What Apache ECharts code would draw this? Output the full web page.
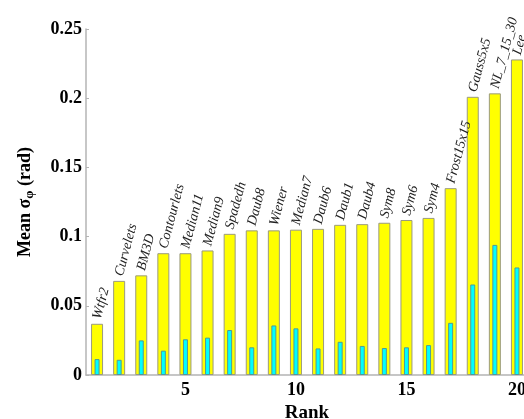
<!DOCTYPE html>
<html>
<head>
<meta charset="utf-8">
<script src="https://cdn.jsdelivr.net/npm/echarts@6/dist/echarts.min.js"></script>
<style>
  html, body { margin: 0; padding: 0; background: #fff; }
  #main { width: 524px; height: 419px; }
</style>
</head>
<body>
<div id="main"></div>
<script>
// rank 1..20, method names written above each bar
var ranks = ["1","2","3","4","5","6","7","8","9","10","11","12","13","14","15","16","17","18","19","20"];
var methods = ["Wtfr2","Curvelets","BM3D","Contourlets","Median11","Median9","Spadedh","Daub8","Wiener","Median7",
               "Daub6","Daub1","Daub4","Sym8","Sym6","Sym4","Frost15x15","Gauss5x5","NL_7_15_30","Lee"];
// mean sigma phi (yellow) and the narrow cyan bars
var meanVals = [0.037, 0.068, 0.072, 0.088, 0.088, 0.090, 0.102, 0.1045, 0.1045, 0.105,
                0.1056, 0.1085, 0.109, 0.110, 0.112, 0.1135, 0.135, 0.201, 0.2035, 0.228];
var innerVals = [0.0115, 0.011, 0.025, 0.0176, 0.0258, 0.027, 0.0325, 0.020, 0.0358, 0.0337,
                 0.0192, 0.024, 0.021, 0.0195, 0.020, 0.0216, 0.0377, 0.0654, 0.094, 0.0777];
var yTicks = [0, 0.05, 0.1, 0.15, 0.2, 0.25];

var serif = "Liberation Serif";
var myChart = echarts.init(document.getElementById("main"));

var option = {
  animation: false,
  // plot runs past the right edge in the original, so no outer bounds clamp
  grid: { left: 86, right: -4, top: 29, bottom: 44, containLabel: false, outerBoundsMode: "none" },
  xAxis: [
    {
      type: "category",
      data: ranks,
      name: "Rank",
      nameLocation: "middle",
      nameGap: 22,
      nameTextStyle: { fontFamily: serif, fontWeight: "bold", fontSize: 19, color: "#000" },
      axisLine: { lineStyle: { color: "#b4b4b4", width: 1.5 } },
      axisTick: { show: false },
      axisLabel: {
        interval: 0,
        margin: 6,
        fontFamily: serif, fontWeight: "bold", fontSize: 18, color: "#000",
        formatter: function (v) { return (+v) % 5 === 0 ? v : ""; }
      }
    },
    {
      type: "category",
      data: ranks,
      show: false
    }
  ],
  yAxis: {
    type: "value",
    min: yTicks[0],
    max: yTicks[yTicks.length - 1],
    interval: 0.05,
    name: "{a|Mean σ}{s|φ}{a| (rad)}",
    nameLocation: "middle",
    nameGap: 50,
    nameTextStyle: {
      rich: {
        a: { fontFamily: serif, fontWeight: "bold", fontSize: 18, color: "#000", verticalAlign: "top", lineHeight: 20 },
        s: { fontFamily: serif, fontWeight: "bold", fontSize: 13, color: "#000", verticalAlign: "bottom", lineHeight: 14, padding: [10, 0, 0, 0] }
      }
    },
    splitLine: { show: false },
    axisLine: { show: true, lineStyle: { color: "#b4b4b4", width: 1.5 } },
    axisTick: { show: true, inside: true, length: 3, lineStyle: { color: "#b4b4b4" } },
    axisLabel: {
      margin: 4,
      fontFamily: serif, fontWeight: "bold", fontSize: 18, color: "#000",
      formatter: function (v) { return String(+v.toFixed(2)); }
    }
  },
  series: [
    {
      type: "bar",
      xAxisIndex: 0,
      data: meanVals,
      barWidth: 12,
      itemStyle: { color: "#ffff00", borderColor: "#9a9a80", borderWidth: 1 },
      label: {
        show: true,
        position: "top",
        distance: 5,
        rotate: 75,
        align: "left",
        verticalAlign: "middle",
        fontFamily: serif, fontStyle: "italic", fontSize: 14, color: "#222",
        formatter: function (p) { return methods[p.dataIndex]; }
      }
    },
    {
      type: "bar",
      xAxisIndex: 1,
      data: innerVals,
      barWidth: 5,
      itemStyle: { color: "#00ffff", borderColor: "#4f9a9a", borderWidth: 1 }
    }
  ]
};
myChart.setOption(option);
</script>
</body>
</html>
